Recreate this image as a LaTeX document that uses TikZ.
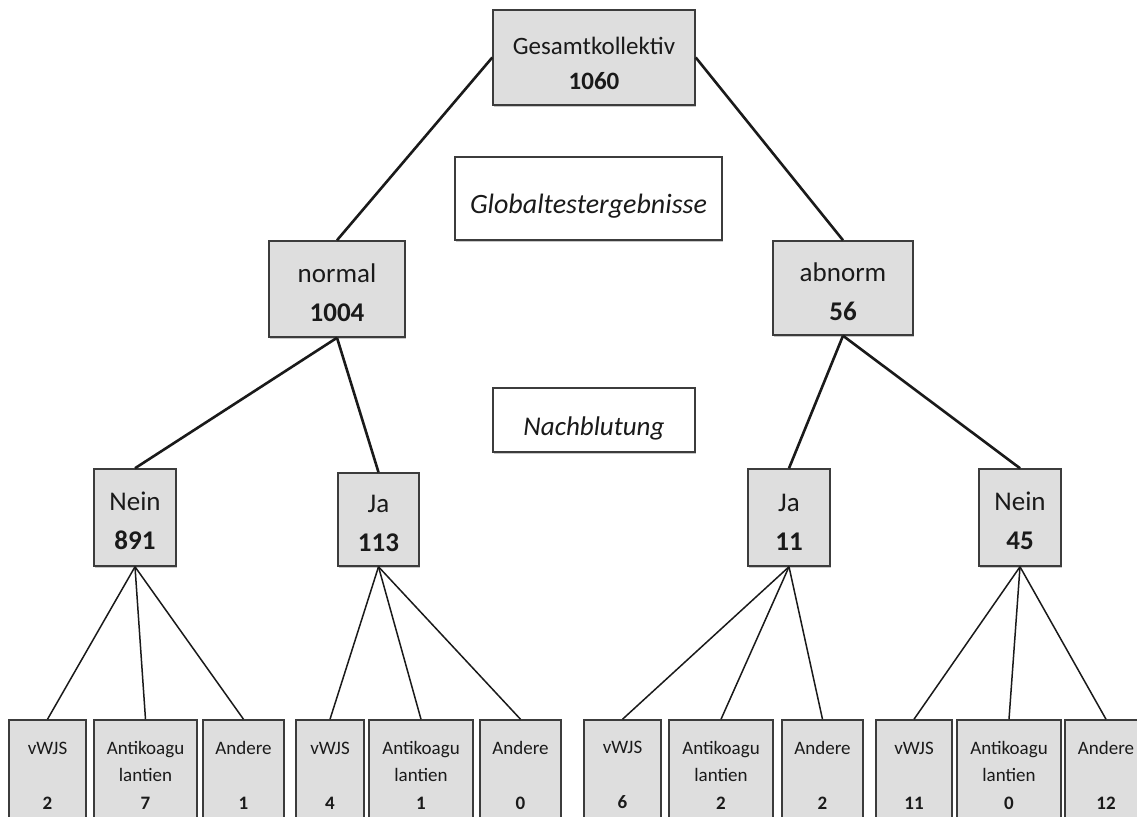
\documentclass[tikz,border=0pt]{standalone}
\usepackage{fontspec}
\setmainfont{Carlito}
\usetikzlibrary{shadows}
\definecolor{boxfill}{HTML}{DEDEDE}
\definecolor{boxline}{HTML}{3C3C3C}
\definecolor{ink}{HTML}{1A1A1A}
\begin{document}
\begin{tikzpicture}[x=1pt,y=-1pt,
  basebox/.style={draw=boxline, line width=1.5pt, inner sep=0pt, align=center, text=ink,
    drop shadow={shadow xshift=1.2pt, shadow yshift=-1.8pt, opacity=0.3, fill=black!70}},
  graybox/.style={basebox, fill=boxfill},
  whitebox/.style={basebox, fill=white, font=\fontsize{27}{33}\selectfont\itshape,
    text height=30pt, text depth=0pt},
  topfont/.style={font=\fontsize{25}{35}\selectfont},
  midfont/.style={font=\fontsize{27}{39}\selectfont},
  lowfont/.style={font=\fontsize{19}{27.5}\selectfont},
  leaf/.style={graybox, lowfont, minimum height=110pt},
  upline/.style={draw=ink, line width=2.6pt},
  lowline/.style={draw=ink, line width=1.5pt}]
\clip (0,0) rectangle (1137,816);
\fill[white] (0,0) rectangle (1137,816);

% top
\node[graybox, topfont, minimum width=202pt, minimum height=95pt] (ges) at (594,57.5)
  {\rule{0pt}{30pt}Gesamtkollektiv\\\textbf{1060}};
\node[whitebox, font=\fontsize{28}{33}\selectfont\itshape, minimum width=267pt, minimum height=83pt] (glob) at (588.5,198.5) {Globaltestergebnisse};

% level 1
\node[graybox, midfont, minimum width=136pt, minimum height=96pt] (normal) at (337,289)
  {\rule{0pt}{26pt}normal\\\textbf{1004}};
\node[graybox, midfont, minimum width=140pt, minimum height=94pt] (abnorm) at (843,288)
  {\rule{0pt}{26pt}abnorm\\\textbf{56}};
\node[whitebox, minimum width=202pt, minimum height=64pt] (nach) at (594,420) {Nachblutung};

% level 2
\node[graybox, midfont, minimum width=82pt, minimum height=97pt] (neinA) at (135,517.5)
  {\rule{0pt}{26pt}Nein\\\textbf{891}};
\node[graybox, midfont, minimum width=81pt, minimum height=93pt] (jaA) at (378.5,519.5)
  {\rule{0pt}{26pt}Ja\\\textbf{113}};
\node[graybox, midfont, minimum width=82pt, minimum height=97pt] (jaB) at (789,517.5)
  {\rule{0pt}{26pt}Ja\\\textbf{11}};
\node[graybox, midfont, minimum width=82pt, minimum height=97pt] (neinB) at (1020,517.5)
  {\rule{0pt}{26pt}Nein\\\textbf{45}};

% leaves
\node[leaf, minimum width=77pt] (l1) at (47.5,775) {\rule{0pt}{13pt}vWJS\\\mbox{}\\\textbf{2}};
\node[leaf, minimum width=103pt] (l2) at (145.5,775) {\rule{0pt}{13pt}Antikoagu\\lantien\\\textbf{7}};
\node[leaf, minimum width=81pt] (l3) at (243.5,775) {\rule{0pt}{13pt}Andere\\\mbox{}\\\textbf{1}};
\node[leaf, minimum width=68pt] (l4) at (330,775) {\rule{0pt}{13pt}vWJS\\\mbox{}\\\textbf{4}};
\node[leaf, minimum width=104pt] (l5) at (421,775) {\rule{0pt}{13pt}Antikoagu\\lantien\\\textbf{1}};
\node[leaf, minimum width=81pt] (l6) at (520.5,775) {\rule{0pt}{13pt}Andere\\\mbox{}\\\textbf{0}};
\node[leaf, minimum width=77pt] (l7) at (622.5,775) {\rule{0pt}{13pt}vWJS\\\mbox{}\\\textbf{6}};
\node[leaf, minimum width=104pt] (l8) at (721,775) {\rule{0pt}{13pt}Antikoagu\\lantien\\\textbf{2}};
\node[leaf, minimum width=81pt] (l9) at (822.5,775) {\rule{0pt}{13pt}Andere\\\mbox{}\\\textbf{2}};
\node[leaf, minimum width=76pt] (l10) at (914,775) {\rule{0pt}{13pt}vWJS\\\mbox{}\\\textbf{11}};
\node[leaf, minimum width=104pt] (l11) at (1009,775) {\rule{0pt}{13pt}Antikoagu\\lantien\\\textbf{0}};
\node[leaf, minimum width=82pt] (l12) at (1106,775) {\rule{0pt}{13pt}Andere\\\mbox{}\\\textbf{12}};

% connectors
\draw[upline] (ges.west) -- (normal.north);
\draw[upline] (ges.east) -- (abnorm.north);
\draw[upline] (normal.south) -- (neinA.north);
\draw[upline] (normal.south) -- (jaA.north);
\draw[upline] (abnorm.south) -- (jaB.north);
\draw[upline] (abnorm.south) -- (neinB.north);
\foreach \p/\c in {neinA/l1, neinA/l2, neinA/l3, jaA/l4, jaA/l5, jaA/l6,
                   jaB/l7, jaB/l8, jaB/l9, neinB/l10, neinB/l11, neinB/l12}
  \draw[lowline] (\p.south) -- (\c.north);
\end{tikzpicture}
\end{document}
